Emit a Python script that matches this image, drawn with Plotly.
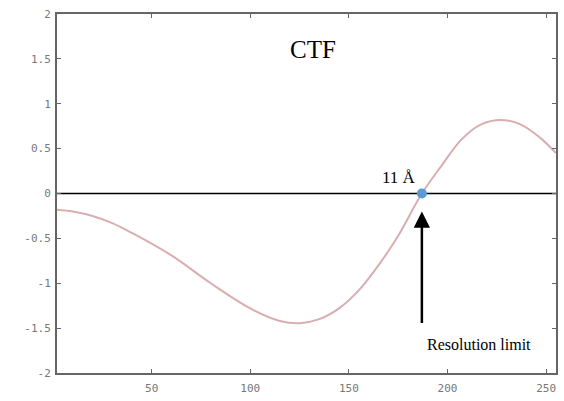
import plotly.graph_objects as go

# CTF curve
freq = [2, 10, 20, 30, 40, 60, 80, 100, 115, 125, 135, 145, 155, 165, 175, 187, 197, 207, 217, 227, 237, 247, 255]
ctf = [-0.18, -0.20, -0.25, -0.33, -0.44, -0.69, -1.00, -1.28, -1.42, -1.445, -1.40, -1.28, -1.08, -0.80,
       -0.47, 0.0, 0.31, 0.60, 0.77, 0.82, 0.77, 0.62, 0.45]

limit_x = [187]
limit_y = [0]

x_ticks = [50, 100, 150, 200, 250]
y_ticks = [-2, -1.5, -1, -0.5, 0, 0.5, 1, 1.5, 2]
y_tick_labels = ["-2", "-1.5", "-1", "-0.5", "0", "0.5", "1", "1.5", "2"]

fig = go.Figure()

# zero line
fig.add_trace(go.Scatter(x=[2, 255], y=[0, 0], mode="lines",
                         line=dict(color="black", width=1.5), hoverinfo="skip", showlegend=False))

fig.add_trace(go.Scatter(x=freq, y=ctf, mode="lines",
                         line=dict(color="#d9aeb0", width=2, shape="spline", smoothing=1.0),
                         showlegend=False))

fig.add_trace(go.Scatter(x=limit_x, y=limit_y, mode="markers",
                         marker=dict(color="#5b9bd5", size=10), showlegend=False))

tnr = "Liberation Serif"
fig.add_annotation(x=187, y=-0.2, ax=187, ay=-1.46, xref="x", yref="y", axref="x", ayref="y",
                   showarrow=True, arrowhead=2, arrowsize=1.3, arrowwidth=2.5, arrowcolor="black", text="")
fig.add_annotation(x=216, y=-1.68, text="Resolution limit", showarrow=False,
                   font=dict(family=tnr, size=16, color="black"))
fig.add_annotation(x=175.5, y=0.18, text="11 Å", showarrow=False,
                   font=dict(family=tnr, size=17, color="black"))
fig.add_annotation(x=132, y=1.61, text="CTF", showarrow=False,
                   font=dict(family=tnr, size=25, color="black"))

axis_common = dict(showgrid=False, zeroline=False, showline=True, linecolor="#666", linewidth=2,
                   mirror="ticks", ticks="inside", ticklen=4, tickcolor="#666",
                   tickfont=dict(family="DejaVu Sans Mono", size=11, color="#777"))

fig.update_xaxes(range=[2, 255], tickvals=x_ticks, ticklabelstandoff=4, **axis_common)
fig.update_yaxes(range=[-2, 2], tickvals=y_ticks, ticktext=y_tick_labels, ticklabelstandoff=2, **axis_common)

fig.update_layout(width=564, height=401, margin=dict(l=57, r=6, t=14, b=27),
                  plot_bgcolor="white", paper_bgcolor="white")

fig.write_html("out.html", config={"displayModeBar": False},
               post_script="document.body.style.margin='0px';")
